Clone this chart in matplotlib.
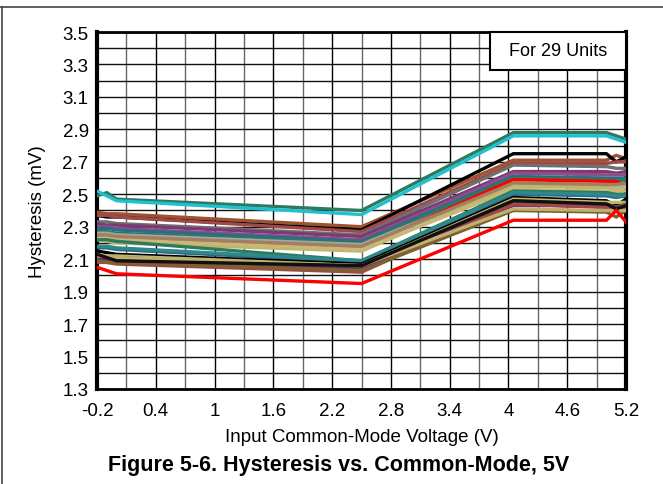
import matplotlib
matplotlib.use("Agg")
import matplotlib.pyplot as plt
from matplotlib.lines import Line2D
from matplotlib.patches import Rectangle
import numpy as np

plt.rcParams['font.family'] = ['Liberation Sans', 'DejaVu Sans']

# Common-mode voltage points (V)
vcm = [-0.2, -0.1, 0.0, 2.5, 4.05, 5.0, 5.1, 5.2]

# Hysteresis (mV) for 29 units
unit_colors = [
    '#2E7A5E', '#20C0D0', '#A0522D', '#000000', '#A04848', '#707070', '#7B3A72',
    '#8E4E8A', '#2F6A8A', '#2E7A5E', '#A6A6A6', '#FF0000', '#B0B0B0', '#BDB76B',
    '#C8B878', '#A08060', '#2E7A5E', '#2F6A8A', '#2E8A8A', '#000000', '#BDB76B',
    '#8B5A2B', '#7B3A72', '#6A2A62', '#A04848', '#7F6030', '#C0B070', '#101010',
    '#FF0000',
]
u01 = [2.49, 2.51, 2.47, 2.40, 2.88, 2.88, 2.86, 2.84]
u02 = [2.52, 2.49, 2.46, 2.375, 2.86, 2.86, 2.84, 2.82]
u03 = [2.39, 2.38, 2.38, 2.30, 2.71, 2.71, 2.74, 2.72]
u04 = [2.37, 2.36, 2.36, 2.28, 2.75, 2.75, 2.70, 2.73]
u05 = [2.37, 2.37, 2.36, 2.27, 2.69, 2.69, 2.70, 2.70]
u06 = [2.33, 2.33, 2.32, 2.25, 2.68, 2.67, 2.66, 2.66]
u07 = [2.32, 2.31, 2.31, 2.24, 2.64, 2.64, 2.63, 2.64]
u08 = [2.30, 2.30, 2.29, 2.22, 2.63, 2.62, 2.62, 2.62]
u09 = [2.29, 2.29, 2.28, 2.21, 2.61, 2.60, 2.60, 2.60]
u10 = [2.27, 2.27, 2.26, 2.20, 2.60, 2.59, 2.58, 2.59]
u11 = [2.26, 2.26, 2.25, 2.19, 2.57, 2.56, 2.55, 2.56]
u12 = [2.24, 2.23, 2.22, 2.17, 2.59, 2.58, 2.58, 2.55]
u13 = [2.25, 2.25, 2.24, 2.18, 2.56, 2.55, 2.54, 2.55]
u14 = [2.22, 2.21, 2.20, 2.15, 2.55, 2.54, 2.53, 2.54]
u15 = [2.23, 2.23, 2.22, 2.16, 2.53, 2.52, 2.52, 2.52]
u16 = [2.25, 2.25, 2.24, 2.18, 2.57, 2.56, 2.56, 2.57]
u17 = [2.22, 2.22, 2.21, 2.09, 2.52, 2.51, 2.50, 2.50]
u18 = [2.17, 2.17, 2.16, 2.08, 2.50, 2.49, 2.48, 2.49]
u19 = [2.18, 2.18, 2.17, 2.09, 2.51, 2.50, 2.49, 2.49]
u20 = [2.15, 2.14, 2.13, 2.07, 2.48, 2.46, 2.43, 2.47]
u21 = [2.13, 2.12, 2.12, 2.06, 2.47, 2.45, 2.45, 2.45]
u22 = [2.12, 2.11, 2.11, 2.05, 2.46, 2.44, 2.42, 2.44]
u23 = [2.11, 2.10, 2.10, 2.04, 2.43, 2.43, 2.42, 2.42]
u24 = [2.10, 2.10, 2.09, 2.05, 2.44, 2.42, 2.41, 2.42]
u25 = [2.08, 2.08, 2.07, 2.02, 2.44, 2.42, 2.41, 2.41]
u26 = [2.09, 2.08, 2.08, 2.03, 2.40, 2.39, 2.36, 2.40]
u27 = [2.12, 2.12, 2.11, 2.06, 2.41, 2.40, 2.40, 2.40]
u28 = [2.13, 2.11, 2.09, 2.06, 2.46, 2.44, 2.41, 2.43]
u29 = [2.05, 2.03, 2.01, 1.95, 2.34, 2.34, 2.40, 2.33]
units = [u01, u02, u03, u04, u05, u06, u07, u08, u09, u10, u11, u12, u13, u14, u15,
         u16, u17, u18, u19, u20, u21, u22, u23, u24, u25, u26, u27, u28, u29]

x_ticks = [-0.2, 0.4, 1, 1.6, 2.2, 2.8, 3.4, 4, 4.6, 5.2]
x_tick_labels = ['-0.2', '0.4', '1', '1.6', '2.2', '2.8', '3.4', '4', '4.6', '5.2']
y_ticks = [1.3, 1.5, 1.7, 1.9, 2.1, 2.3, 2.5, 2.7, 2.9, 3.1, 3.3, 3.5]
y_tick_labels = ['1.3', '1.5', '1.7', '1.9', '2.1', '2.3', '2.5', '2.7', '2.9', '3.1', '3.3', '3.5']

fig = plt.figure(figsize=(6.63, 4.85), dpi=100)
ax = fig.add_axes([97/663, 1-390/485, (626-97)/663, (390-33)/485])

for vals, c in zip(units, unit_colors):
    ax.plot(vcm, vals, color=c, lw=2.4, solid_joinstyle='miter', zorder=3)

ax.set_xlim(-0.2, 5.2)
ax.set_ylim(1.3, 3.5)
ax.set_xticks(x_ticks)
ax.set_xticklabels(x_tick_labels)
ax.set_yticks(y_ticks)
ax.set_yticklabels(y_tick_labels)
ax.set_xticks(np.arange(-0.2, 5.21, 0.3), minor=True)
ax.set_yticks(np.arange(1.3, 3.51, 0.1), minor=True)
ax.tick_params(which='both', length=0)
ax.tick_params(axis='x', labelsize=13.5, pad=9)
ax.tick_params(axis='y', labelsize=13.5, pad=6)
ax.grid(which='major', axis='x', color='#000000', lw=1.0, zorder=1)
ax.grid(which='minor', axis='x', color='#666666', lw=1.0, zorder=1)
ax.grid(which='both', axis='y', color='#111111', lw=1.0, zorder=1)
for s in ['left', 'right']:
    ax.spines[s].set_linewidth(3.0)
for s in ['top', 'bottom']:
    ax.spines[s].set_linewidth(2.0)

ax.set_xlabel('Input Common-Mode Voltage (V)', fontsize=13.5, labelpad=7)
ax.set_ylabel('Hysteresis (mV)', fontsize=13.5, labelpad=12)

# "For 29 Units" box anchored to the top-right corner of the plot
bx0 = (490-97)/529
by0 = (390-71)/357
ax.add_patch(Rectangle((bx0, by0), 1-bx0, 1-by0, transform=ax.transAxes,
                       fc='white', ec='black', lw=1.5, zorder=6, clip_on=False))
ax.text((bx0+1)/2, (by0+1)/2, 'For 29 Units', transform=ax.transAxes, ha='center', va='center',
        fontsize=13, zorder=7)

fig.text(0.51, 1-466/485, 'Figure 5-6. Hysteresis vs. Common-Mode, 5V', ha='center', va='center',
         fontsize=15.5, fontweight='bold')

# page frame lines
fig.add_artist(Line2D([0, 1], [1-8/485, 1-8/485], color='#444444', lw=1.2, transform=fig.transFigure))
fig.add_artist(Line2D([2/663, 2/663], [0, 1-8/485], color='#444444', lw=1.2, transform=fig.transFigure))

fig.savefig('out.png', dpi=100)
